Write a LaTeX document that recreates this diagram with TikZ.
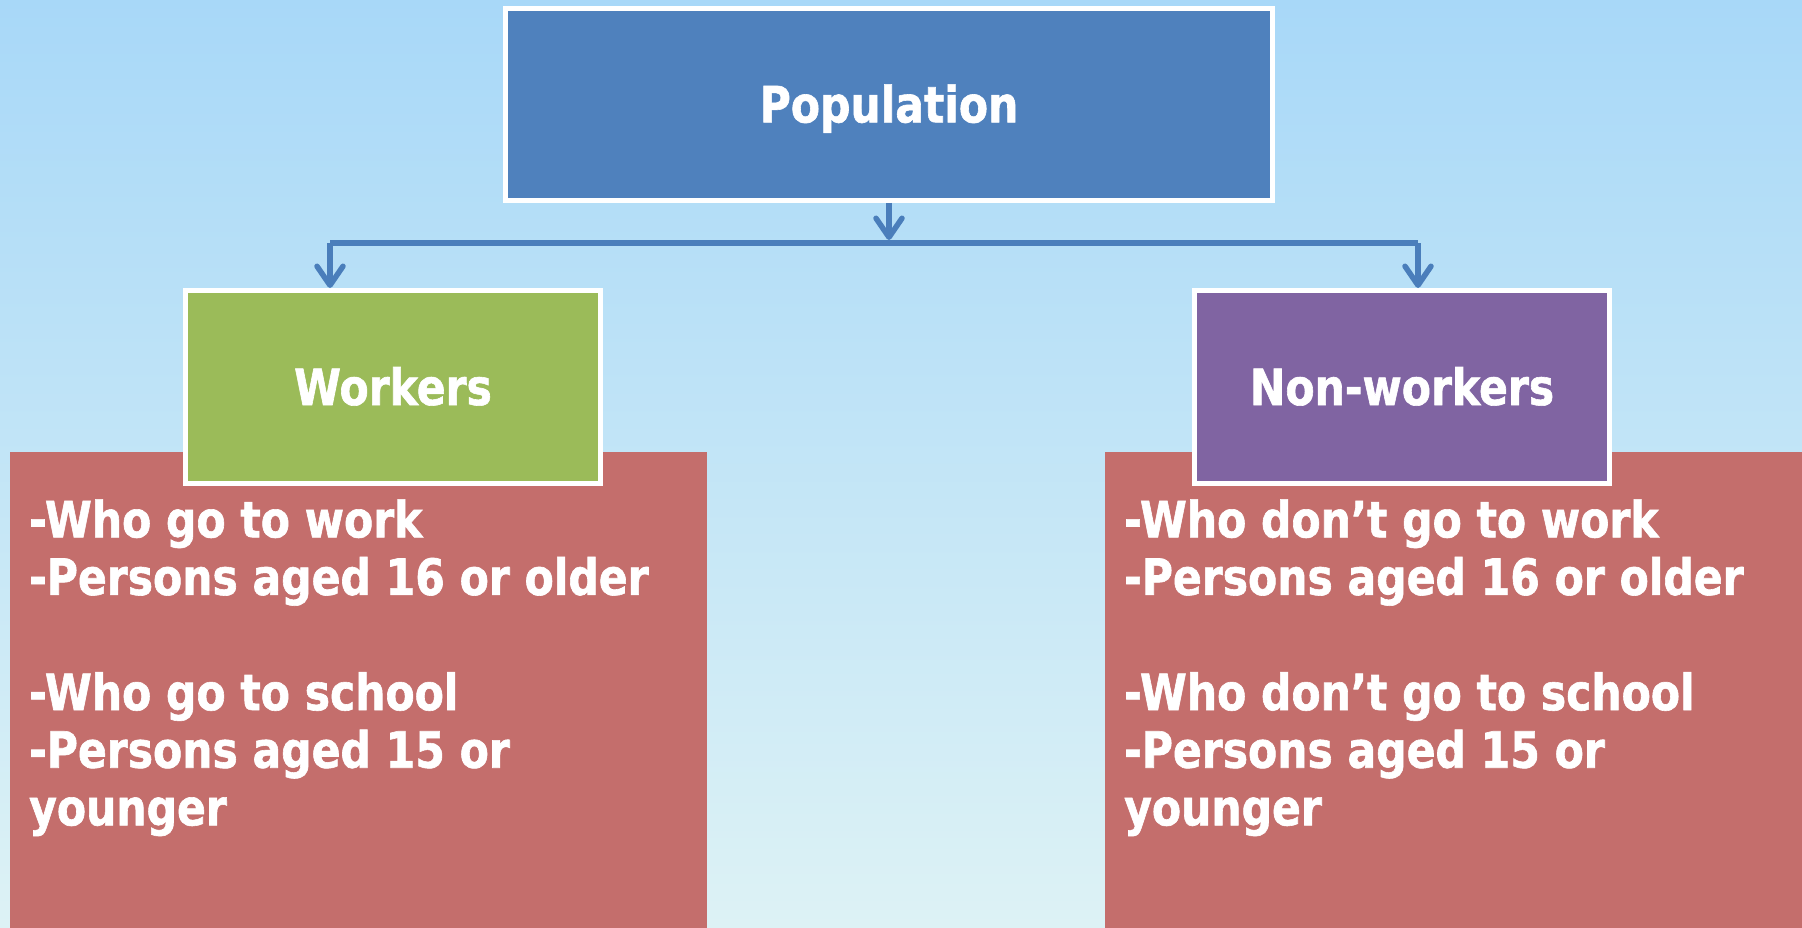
\documentclass[tikz,border=0pt]{standalone}
\usepackage{fontspec}
\usetikzlibrary{arrows.meta}
\newfontfamily\lblfont[FakeStretch=0.85,FakeBold=1.2]{DejaVu Sans}
\definecolor{bgtop}{HTML}{A8D8F8}
\definecolor{bgbot}{HTML}{DDF2F5}
\definecolor{popblue}{HTML}{4F81BD}
\definecolor{wkgreen}{HTML}{9BBB59}
\definecolor{nwpurple}{HTML}{8064A2}
\definecolor{notered}{HTML}{C46E6C}
\definecolor{connblue}{HTML}{4A7EBB}
\tikzset{
  headbox/.style={rectangle, draw=white, line width=5pt, inner sep=0pt,
    text=white, font=\lblfont\bfseries\fontsize{50}{58}\selectfont,
    text height=36pt, text depth=0pt},
  notebox/.style={rectangle, fill=notered, draw=none, inner sep=0pt},
  notetext/.style={inner sep=0pt, anchor=base west, align=left, text=white,
    font=\lblfont\bfseries\fontsize{50}{57.6}\selectfont},
  conn/.style={draw=connblue, line width=5.5pt},
  tipconn/.style={conn, -{Straight Barb[length=19pt,width=26pt,round]}}
}
\begin{document}
\begin{tikzpicture}[x=1pt,y=-1pt]
\useasboundingbox (0,0) rectangle (1802,927);
\shade[top color=bgtop, bottom color=bgbot] (0,0) rectangle (1802,927);
% note boxes
\node[notebox, minimum width=697pt, minimum height=476pt] (lnote) at (358.5,689.5) {};
\node[notebox, minimum width=697pt, minimum height=476pt] (rnote) at (1453.5,689.5) {};
\node[notetext] (ltext) at (29,825.3) {-Who go to work\\-Persons aged 16 or older\\[57.6pt]-Who go to school\\-Persons aged 15 or\\younger};
\node[notetext] (rtext) at (1124,825.3) {-Who don’t go to work\\-Persons aged 16 or older\\[57.6pt]-Who don’t go to school\\-Persons aged 15 or\\younger};
% head boxes
\node[headbox, fill=popblue, minimum width=767pt, minimum height=192pt] (pop) at (889,104.4) {Population};
\node[headbox, fill=wkgreen, minimum width=415pt, minimum height=193pt] (wk) at (393,387) {Workers};
\node[headbox, fill=nwpurple, minimum width=415pt, minimum height=193pt] (nw) at (1402,387) {Non-workers};
% connectors
\coordinate (barL) at (330,243);
\coordinate (barR) at (1418,243);
\draw[conn] (barL) -- (barR);
\draw[tipconn] (pop.south) -- ([yshift=3pt]pop.south |- barL);
\draw[tipconn] (barL) -- (barL |- wk.north);
\draw[tipconn] (barR) -- (barR |- nw.north);
\end{tikzpicture}
\end{document}
